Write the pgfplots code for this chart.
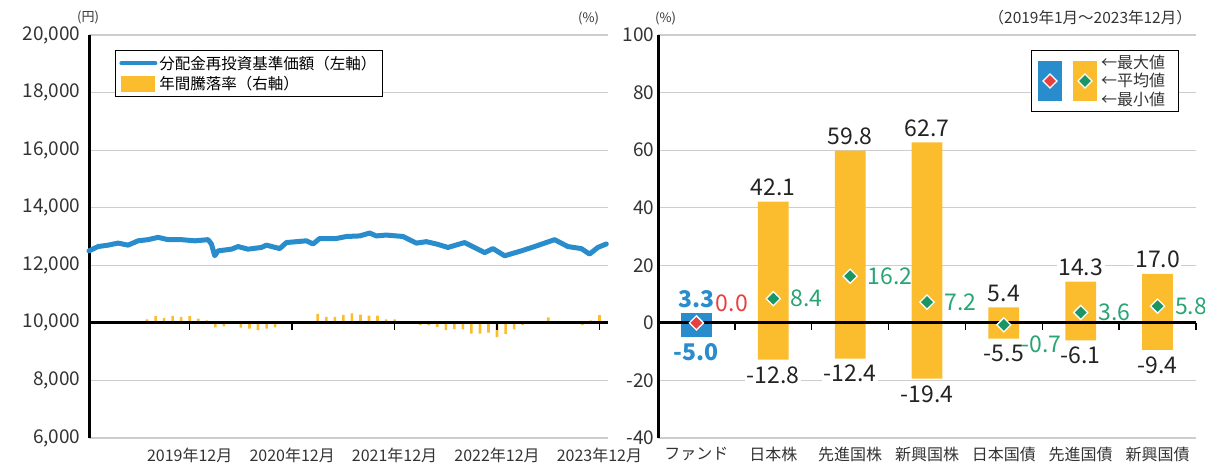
\documentclass[border=0pt]{standalone}
\usepackage{fontspec}
\setmainfont{Noto Sans CJK JP}
\usepackage{pgfplots}
\pgfplotsset{compat=1.18}
\definecolor{cblue}{RGB}{40,140,205}
\definecolor{cyel}{RGB}{251,189,45}
\definecolor{cred}{RGB}{232,64,63}
\definecolor{cgreen}{RGB}{26,150,100}
\definecolor{cgtext}{RGB}{40,165,115}
\definecolor{cgrid}{RGB}{205,205,205}
\definecolor{ctext}{RGB}{51,51,51}
\definecolor{cval}{RGB}{35,35,35}
\newcommand{\tkf}{\fontsize{19}{21}\selectfont}
\newcommand{\xlf}{\fontsize{16}{18}\selectfont}
\newcommand{\lgf}{\fontsize{15.5}{18}\selectfont}
\newcommand{\vlf}{\fontsize{23}{25}\selectfont}
\newcommand{\smf}{\fontsize{13}{15}\selectfont}
\tikzset{vl/.style={font=\vlf, text=cval, fill=white, inner sep=1.5pt}}
\pgfplotsset{
  panel/.style={
    scale only axis, width=#1, height=403pt, ymin=-40, ymax=100,
    axis x line*=bottom, x axis line style={draw=none},
    axis y line*=left, y axis line style={line width=3pt, black},
    major tick length=0pt,
    ytick={-40,-20,...,100},
    ymajorgrids, major grid style={cgrid, line width=1.2pt},
    tick label style={text=ctext},
    yticklabel style={font=\tkf},
    xticklabel style={font=\xlf, yshift=-6pt},
    clip=false,
  }
}
\begin{document}
\begin{tikzpicture}[x=1pt,y=1pt]
\path[use as bounding box] (0,0) rectangle (1205,470);
\begin{axis}[panel=519pt, at={(89pt,32pt)}, anchor=south west,
  xmin=0.2, xmax=61,
  xtick={12,24,36,48,60},
  xticklabels={2019年12月,2020年12月,2021年12月,2022年12月,2023年12月},
  yticklabels={{6,000},{8,000},{10,000},{12,000},{14,000},{16,000},{18,000},{20,000}},
  yticklabel style={xshift=-5pt},
  legend style={at={(0.05,0.963)}, anchor=north west, draw=black, line width=0.9pt, font=\lgf, inner xsep=4pt, inner ysep=3.5pt, row sep=1.5pt, cells={anchor=west}},
  legend cell align=left,
]
\addplot[cblue, line width=5pt, line join=round, line cap=round,
  legend image code/.code={\draw[cblue,line width=4pt] (0pt,0pt) -- (34pt,0pt);}] coordinates {
(0.2,25.0) (1.26,26.5) (2.44,27.0) (3.61,27.7) (4.78,27.0) (5.95,28.5) (7.12,28.9) (8.29,29.7) (9.46,28.9) (11.03,28.9) (12.59,28.5) (14.15,28.9) (14.54,27.4) (14.93,23.3) (15.32,25.0) (16.89,25.6) (17.66,26.5) (18.83,25.6) (20.40,26.2) (20.98,27.0) (22.54,25.8) (23.33,27.9) (25.67,28.5) (26.44,27.4) (27.22,29.3) (29.18,29.3) (30.35,30.0) (31.91,30.2) (33.08,31.2) (33.86,30.2) (35.03,30.5) (36.98,30.0) (38.55,27.7) (39.72,28.2) (40.89,27.4) (42.25,26.2) (44.20,27.9) (46.55,24.4) (47.52,25.8) (48.89,23.3) (50.84,25.0) (52.40,26.5) (54.74,28.9) (56.30,26.5) (57.87,25.8) (58.84,23.9) (59.81,26.2) (60.80,27.4)
};
\addlegendentry{分配金再投資基準価額（左軸）}
\addplot[ybar, bar width=2.6pt, bar shift=0pt, fill=cyel, draw=none,
  legend image code/.code={\fill[cyel] (0pt,-8pt) rectangle (34pt,8pt);}] coordinates {
(7,1.2) (8,2.3) (9,1.7) (10,2.4) (11,2.1) (12,2.3) (13,1.5) (14,0.9) (15,-1.6) (16,-1.2) (17,-0.3) (18,-1.7) (19,-2.0) (20,-2.5) (21,-2.0) (22,-1.6) (23,0.2) (24,0.1) (25,0.2) (26,0.3) (27,3.1) (28,2.1) (29,2.1) (30,2.8) (31,3.3) (32,2.9) (33,2.5) (34,2.5) (35,1.2) (36,1.2) (37,0.3) (38,-0.2) (39,-0.8) (40,-0.9) (41,-1.4) (42,-2.5) (43,-2.2) (44,-2.3) (45,-3.7) (46,-3.7) (47,-3.4) (48,-5.0) (49,-3.9) (50,-2.3) (51,-0.8) (52,-0.3) (53,0.3) (54,1.9) (55,0.2) (56,-0.2) (57,-0.3) (58,-0.8) (59,0.9) (60,2.7)
};
\addlegendentry{年間騰落率（右軸）}
\draw[line width=2.8pt] (axis cs:0.2,0) -- (axis cs:61,0);
\pgfplotsinvokeforeach{12,24,36,48,60}{\draw[line width=1.4pt] (axis cs:#1,0) -- ++(0pt,-7pt);}
\end{axis}

\begin{axis}[panel=538pt, at={(658pt,32pt)}, anchor=south west,
  xmin=-0.5, xmax=6.5, xtick={0,...,6},
  xticklabels={ファンド,日本株,先進国株,新興国株,日本国債,先進国債,新興国債},
  yticklabels={-40,-20,0,20,40,60,80,100},
]
\addplot[ybar, bar width=0.4, bar shift=0pt, fill=cblue, draw=none] coordinates {(0,3.3)};
\addplot[ybar, bar width=0.4, bar shift=0pt, fill=cblue, draw=none] coordinates {(0,-5.0)};
\addplot[ybar, bar width=0.4, bar shift=0pt, fill=cyel, draw=none] coordinates {(1,42.1) (2,59.8) (3,62.7) (4,5.4) (5,14.3) (6,17.0)};
\addplot[ybar, bar width=0.4, bar shift=0pt, fill=cyel, draw=none] coordinates {(1,-12.8) (2,-12.4) (3,-19.4) (4,-5.5) (5,-6.1) (6,-9.4)};
\draw[line width=2.8pt] (axis cs:-0.5,0) -- (axis cs:6.5,0);
\pgfplotsinvokeforeach{0.5,1.5,2.5,3.5,4.5,5.5,6.5}{\draw[line width=1.4pt] (axis cs:#1,0) -- ++(0pt,-7pt);}
\addplot[only marks, mark=square*, mark size=5pt, mark options={rotate=45, fill=cred, draw=white, line width=1.3pt}] coordinates {(0,0.0)};
\addplot[only marks, mark=square*, mark size=5pt, mark options={rotate=45, fill=cgreen, draw=white, line width=1.3pt}] coordinates {(1,8.4) (2,16.2) (3,7.2) (4,-0.7) (5,3.6) (6,5.8)};
% max labels
\node[vl, anchor=south, yshift=4pt, text=cblue, font=\vlf\bfseries] at (axis cs:0,3.3) {3.3};
\node[vl, anchor=south, yshift=4pt] at (axis cs:1,42.1) {42.1};
\node[vl, anchor=south, yshift=4pt] at (axis cs:2,59.8) {59.8};
\node[vl, anchor=south, yshift=4pt] at (axis cs:3,62.7) {62.7};
\node[vl, anchor=south, yshift=4pt] at (axis cs:4,5.4) {5.4};
\node[vl, anchor=south, yshift=4pt] at (axis cs:5,14.3) {14.3};
\node[vl, anchor=south, yshift=4pt] at (axis cs:6,17.0) {17.0};
% min labels
\node[vl, anchor=north, yshift=-5pt, text=cblue, font=\vlf\bfseries] at (axis cs:0,-5.0) {-5.0};
\node[vl, anchor=north, yshift=-5pt] at (axis cs:1,-12.8) {-12.8};
\node[vl, anchor=north, yshift=-5pt] at (axis cs:2,-12.4) {-12.4};
\node[vl, anchor=north, yshift=-5pt] at (axis cs:3,-19.4) {-19.4};
\node[vl, anchor=north, yshift=-5pt] at (axis cs:4,-5.5) {-5.5};
\node[vl, anchor=north, yshift=-5pt] at (axis cs:5,-6.1) {-6.1};
\node[vl, anchor=north, yshift=-5pt] at (axis cs:6,-9.4) {-9.4};
% mean labels
\node[font=\vlf, text=cred, anchor=west, xshift=16pt, yshift=20pt] at (axis cs:0,0.0) {0.0};
\node[font=\vlf, text=cgtext, anchor=west, xshift=14pt] at (axis cs:1,8.4) {8.4};
\node[font=\vlf, text=cgtext, anchor=west, xshift=14pt] at (axis cs:2,16.2) {16.2};
\node[font=\vlf, text=cgtext, anchor=west, xshift=14pt] at (axis cs:3,7.2) {7.2};
\node[font=\vlf, text=cgtext, anchor=west, xshift=14pt, yshift=-19pt] at (axis cs:4,-0.7) {-0.7};
\node[font=\vlf, text=cgtext, anchor=west, xshift=14pt] at (axis cs:5,3.6) {3.6};
\node[font=\vlf, text=cgtext, anchor=west, xshift=14pt] at (axis cs:6,5.8) {5.8};
\end{axis}

% unit labels and period
\node[font=\smf, text=ctext, anchor=west, inner sep=0pt] at (77,453) {(円)};
\node[font=\smf, text=ctext, anchor=west, inner sep=0pt] at (578,452) {(\%)};
\node[font=\smf, text=ctext, anchor=west, inner sep=0pt] at (655,452) {(\%)};
\node[font=\fontsize{15.5}{17}\selectfont, text=ctext, anchor=east, inner sep=0pt] at (1192,452) {（2019年1月～2023年12月）};

% right legend
\draw[line width=0.9pt, fill=white] (1031,420) rectangle (1178,359);
\fill[cblue] (1038,409) rectangle (1062,369);
\fill[cyel] (1073,409) rectangle (1097,369);
\filldraw[fill=cred, draw=white, line width=1.1pt] (1050,396) -- (1057,389) -- (1050,382) -- (1043,389) -- cycle;
\filldraw[fill=cgreen, draw=white, line width=1.1pt] (1085,396) -- (1092,389) -- (1085,382) -- (1078,389) -- cycle;
\node[font=\fontsize{16}{18}\selectfont, text=ctext, anchor=west, inner sep=0pt] at (1101,408) {←最大値};
\node[font=\fontsize{16}{18}\selectfont, text=ctext, anchor=west, inner sep=0pt] at (1101,389.5) {←平均値};
\node[font=\fontsize{16}{18}\selectfont, text=ctext, anchor=west, inner sep=0pt] at (1101,371) {←最小値};
\end{tikzpicture}
\end{document}
